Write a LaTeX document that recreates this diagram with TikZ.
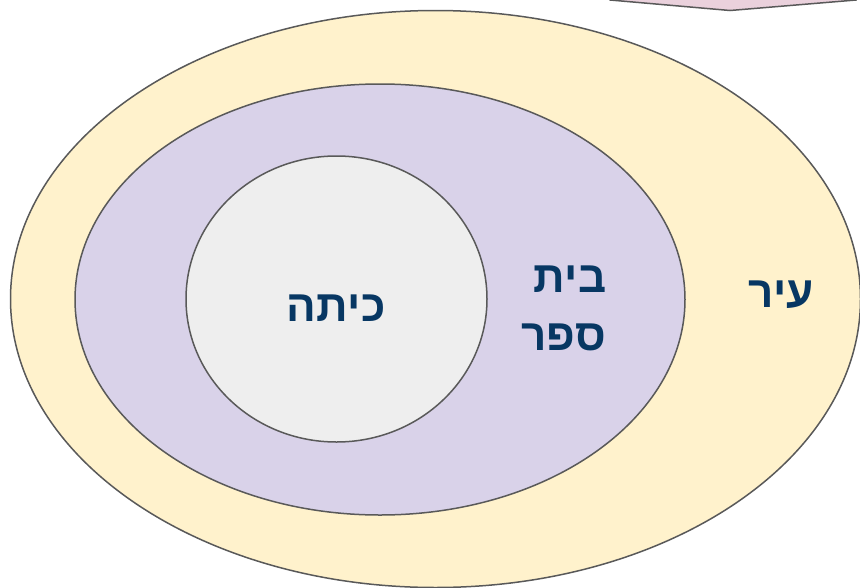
\documentclass[tikz,border=0pt]{standalone}
\usepackage{fontspec}
\setmainfont{Liberation Sans}
\usetikzlibrary{shapes,positioning,calc}
\TeXXeTstate=1
\definecolor{cityfill}{HTML}{FFF2CC}
\definecolor{schoolfill}{HTML}{D9D2E9}
\definecolor{classfill}{HTML}{EEEEEE}
\definecolor{pinkfill}{HTML}{EAD1DC}
\definecolor{edgegray}{HTML}{595959}
\definecolor{labelblue}{HTML}{073763}
\tikzstyle{ring} = [draw=edgegray, line width=1.5pt]
\tikzstyle{label} = [text=labelblue, font=\bfseries\fontsize{44}{58}\selectfont, align=center, inner sep=0pt]

\begin{document}
\begin{tikzpicture}[x=1pt, y=-1pt]
    \useasboundingbox (0,0) rectangle (860,587);
    \clip (0,0) rectangle (860,587);
    % Shapes
    \draw [ring, fill=pinkfill] (610,-40) -- (610,0) -- (730,10.5) -- (856,0) -- (856,-40) -- cycle;
    \draw [ring, fill=cityfill] (435.5,299) ellipse [x radius=425, y radius=288.5];
    \draw [ring, fill=schoolfill] (380,299.5) ellipse [x radius=305, y radius=215.5];
    \draw [ring, fill=classfill] (336.5,299) ellipse [x radius=150.5, y radius=143];
    % Labels
    \node [label] (class) at (336,308) {\beginR כיתה\endR};
    \node [label, align=right] (school) at (564,308) {\beginR בית\endR\\\beginR ספר\endR};
    \node [label] (city) at (781,295) {\beginR עיר\endR};
\end{tikzpicture}
\end{document}
